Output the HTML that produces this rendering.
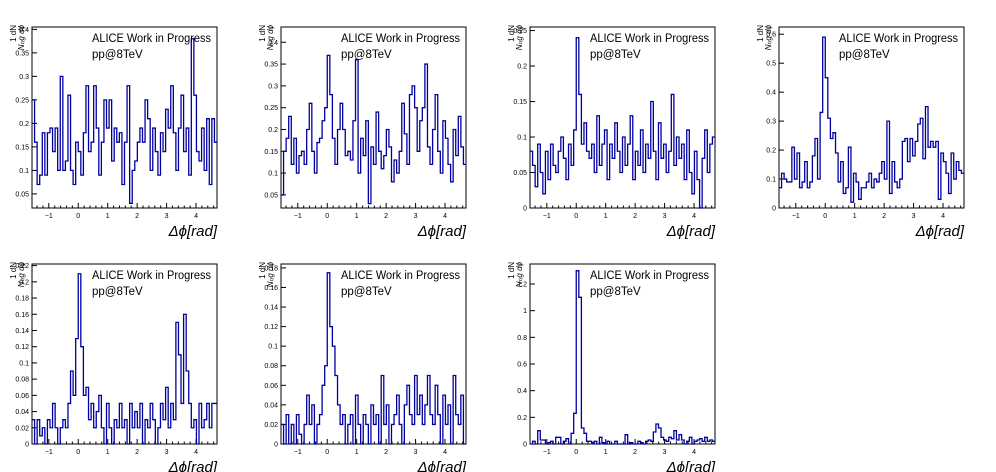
<!DOCTYPE html>
<html><head><meta charset="utf-8">
<style>
html,body{margin:0;padding:0;background:#fff;}
svg{display:block;font-family:"Liberation Sans",sans-serif;}
</style></head>
<body>
<svg id="c" width="996" height="472" viewBox="0 0 996 472" xmlns="http://www.w3.org/2000/svg"></svg>
<script>
// ---- data ----
const xTicks = [-1, 0, 1, 2, 3, 4];
const xTickLabels = ["\u22121", "0", "1", "2", "3", "4"];
const p1Values = [0.25,0.16,0.07,0.09,0.18,0.09,0.18,0.19,0.14,0.19,0.10,0.30,0.10,0.12,0.26,0.10,0.07,0.16,0.14,0.09,0.18,0.28,0.14,0.16,0.28,0.19,0.09,0.16,0.25,0.19,0.25,0.12,0.19,0.16,0.18,0.07,0.16,0.28,0.03,0.10,0.12,0.16,0.19,0.16,0.25,0.21,0.10,0.19,0.14,0.09,0.18,0.14,0.23,0.19,0.28,0.18,0.10,0.19,0.26,0.14,0.19,0.09,0.38,0.26,0.14,0.12,0.19,0.10,0.21,0.07,0.21,0.16];
const p2Values = [0.05,0.15,0.18,0.23,0.12,0.18,0.10,0.14,0.15,0.12,0.20,0.26,0.15,0.10,0.17,0.18,0.22,0.25,0.37,0.28,0.18,0.12,0.20,0.26,0.20,0.14,0.15,0.13,0.22,0.36,0.10,0.18,0.14,0.22,0.03,0.16,0.12,0.24,0.15,0.11,0.14,0.20,0.16,0.08,0.13,0.10,0.15,0.26,0.19,0.12,0.28,0.30,0.25,0.15,0.22,0.25,0.35,0.16,0.12,0.20,0.28,0.15,0.10,0.22,0.18,0.12,0.08,0.20,0.14,0.23,0.16,0.12];
const p3Values = [0.08,0.06,0.03,0.09,0.05,0.02,0.08,0.04,0.09,0.06,0.05,0.08,0.10,0.07,0.04,0.09,0.06,0.11,0.24,0.16,0.09,0.12,0.08,0.07,0.09,0.05,0.13,0.06,0.09,0.11,0.04,0.09,0.07,0.12,0.08,0.05,0.10,0.06,0.09,0.13,0.04,0.08,0.06,0.11,0.05,0.09,0.07,0.15,0.08,0.04,0.12,0.07,0.09,0.05,0.08,0.16,0.06,0.10,0.07,0.09,0.04,0.11,0.05,0.02,0.08,0.04,0.00,0.07,0.11,0.05,0.09,0.10];
const p4Values = [0.07,0.12,0.10,0.09,0.09,0.21,0.10,0.19,0.07,0.09,0.16,0.07,0.09,0.18,0.24,0.10,0.33,0.59,0.45,0.31,0.24,0.26,0.19,0.09,0.16,0.05,0.07,0.21,0.02,0.12,0.09,0.03,0.07,0.07,0.09,0.12,0.07,0.10,0.09,0.12,0.16,0.10,0.30,0.05,0.16,0.09,0.07,0.10,0.23,0.24,0.16,0.24,0.18,0.23,0.29,0.31,0.17,0.35,0.21,0.23,0.21,0.23,0.03,0.19,0.16,0.12,0.05,0.19,0.10,0.16,0.13,0.12];
const p5Values = [0.03,0.00,0.03,0.01,0.02,0.00,0.03,0.02,0.05,0.02,0.00,0.02,0.03,0.02,0.05,0.09,0.06,0.13,0.21,0.12,0.06,0.07,0.03,0.05,0.02,0.04,0.06,0.02,0.00,0.05,0.02,0.00,0.03,0.02,0.05,0.02,0.03,0.00,0.05,0.02,0.04,0.02,0.05,0.00,0.03,0.02,0.05,0.03,0.00,0.02,0.05,0.03,0.07,0.02,0.05,0.03,0.15,0.11,0.05,0.16,0.09,0.05,0.02,0.03,0.00,0.05,0.02,0.03,0.05,0.02,0.05,0.05];
const p6Values = [0.02,0.00,0.03,0.00,0.02,0.00,0.03,0.01,0.00,0.02,0.05,0.02,0.04,0.00,0.02,0.03,0.06,0.08,0.175,0.12,0.10,0.07,0.04,0.02,0.03,0.00,0.02,0.03,0.00,0.05,0.02,0.00,0.03,0.02,0.00,0.04,0.02,0.03,0.00,0.07,0.02,0.04,0.00,0.02,0.03,0.05,0.02,0.00,0.04,0.06,0.03,0.02,0.07,0.03,0.05,0.02,0.04,0.07,0.03,0.02,0.06,0.03,0.00,0.05,0.02,0.04,0.00,0.07,0.03,0.02,0.05,0.00];
const p7Values = [0.00,0.02,0.00,0.10,0.03,0.03,0.00,0.01,0.02,0.00,0.05,0.05,0.00,0.02,0.04,0.00,0.08,0.23,1.30,1.10,0.12,0.08,0.02,0.02,0.01,0.02,0.00,0.05,0.01,0.00,0.02,0.00,0.00,0.02,0.00,0.00,0.00,0.07,0.00,0.01,0.00,0.00,0.02,0.01,0.00,0.02,0.03,0.02,0.09,0.15,0.12,0.05,0.03,0.02,0.05,0.04,0.10,0.03,0.07,0.03,0.00,0.02,0.05,0.00,0.02,0.03,0.04,0.02,0.05,0.02,0.03,0.02];
const p1YTicks = [0.05,0.1,0.15,0.2,0.25,0.3,0.35,0.4];
const p2YTicks = [0.05,0.1,0.15,0.2,0.25,0.3,0.35,0.4];
const p3YTicks = [0,0.05,0.1,0.15,0.2,0.25];
const p4YTicks = [0,0.1,0.2,0.3,0.4,0.5,0.6];
const p5YTicks = [0,0.02,0.04,0.06,0.08,0.1,0.12,0.14,0.16,0.18,0.2,0.22];
const p6YTicks = [0,0.02,0.04,0.06,0.08,0.1,0.12,0.14,0.16,0.18];
const p7YTicks = [0,0.2,0.4,0.6,0.8,1,1.2];
const yRanges = [[0.02,0.405],[0.02,0.435],[0,0.255],[0,0.625],[0,0.222],[0,0.184],[0,1.35]];

const panels = [
  {v:p1Values,t:p1YTicks,col:0,row:0},
  {v:p2Values,t:p2YTicks,col:1,row:0},
  {v:p3Values,t:p3YTicks,col:2,row:0},
  {v:p4Values,t:p4YTicks,col:3,row:0},
  {v:p5Values,t:p5YTicks,col:0,row:1},
  {v:p6Values,t:p6YTicks,col:1,row:1},
  {v:p7Values,t:p7YTicks,col:2,row:1}
];
const NS = "http://www.w3.org/2000/svg";
const svg = document.getElementById('c');
function mk(tag, attrs, parent){const e=document.createElementNS(NS,tag);for(const k in attrs)e.setAttribute(k,attrs[k]);(parent||svg).appendChild(e);return e;}
const XMIN=-Math.PI/2, XMAX=1.5*Math.PI;
panels.forEach((p,idx)=>{
  const L=p.col*249+32, R=L+185, T=p.row===0?27:264, B=p.row===0?208:444;
  const [y0,y1]=yRanges[idx];
  const xs=x=>L+(x-XMIN)/(XMAX-XMIN)*(R-L);
  const ys=y=>B-(y-y0)/(y1-y0)*(B-T);
  const g=mk('g',{});
  
  
  const fr=mk('rect',{x:L,y:T,width:R-L,height:B-T,fill:'none',stroke:'#000','stroke-width':1},g);
  
  
  xTicks.forEach((t,i)=>{
    const x=xs(t);
    mk('line',{x1:x,y1:B,x2:x,y2:B-5,stroke:'#000','stroke-width':1},g);
    const tx=mk('text',{x:x,y:B+10,'font-size':7,'text-anchor':'middle',fill:'#000'},g);
    tx.textContent=xTickLabels[i];
    
    
    for(let m=1;m<5;m++){const xm=xs(t+m*0.2);if(xm<R)mk('line',{x1:xm,y1:B,x2:xm,y2:B-2.5,stroke:'#000','stroke-width':1},g);}
  });
  for(let m=1;m<3;m++){const xm=xs(-1-m*0.2);mk('line',{x1:xm,y1:B,x2:xm,y2:B-2.5,stroke:'#000','stroke-width':1},g);}
  p.t.forEach(t=>{
    const y=ys(t);
    mk('line',{x1:L,y1:y,x2:L+5,y2:y,stroke:'#000','stroke-width':1},g);
    const tx=mk('text',{x:L-3,y:y+2.5,'font-size':7,'text-anchor':'end',fill:'#000'},g);
    tx.textContent=String(t);
    
    
  });
  const n=p.v.length, w=(XMAX-XMIN)/n;
  let d='';
  p.v.forEach((v,i)=>{
    const xa=xs(XMIN+i*w), xb=xs(XMIN+(i+1)*w), y=Math.max(T,Math.min(B,ys(v)));
    d+=(i===0?'M':'L')+xa.toFixed(2)+','+y.toFixed(2)+'L'+xb.toFixed(2)+','+y.toFixed(2);
  });
  const path=mk('path',{d:d,fill:'none',stroke:'#0000a0','stroke-width':1.3},g);
  
  
  const a=mk('text',{x:L+60,y:T+15,'font-size':11.5,fill:'#000',textLength:119,lengthAdjust:'spacingAndGlyphs'},g);
  a.textContent='ALICE Work in Progress';
  
  
  const b=mk('text',{x:L+60,y:T+31,'font-size':11.5,fill:'#000'},g);
  b.textContent='pp@8TeV';
  
  
  const xl=mk('text',{x:R,y:B+28,'font-size':15,'font-style':'italic','text-anchor':'end',fill:'#000'},g);
  xl.textContent='\u0394\u03d5[rad]';
  
  
  const yl=mk('text',{x:0,y:0,'font-size':8,fill:'#000','text-anchor':'end',transform:'translate('+(L-16)+','+(T-2)+') rotate(-90)'},g);
  yl.textContent='1   dN';
  
  
  const yl2=mk('text',{x:0,y:0,'font-size':8,'font-style':'italic',fill:'#000','text-anchor':'end',transform:'translate('+(L-8)+','+(T-2)+') rotate(-90)'},g);
  yl2.textContent='N\u209c\u1d63g d\u03d5';
  
  
});
</script>
</body></html>
